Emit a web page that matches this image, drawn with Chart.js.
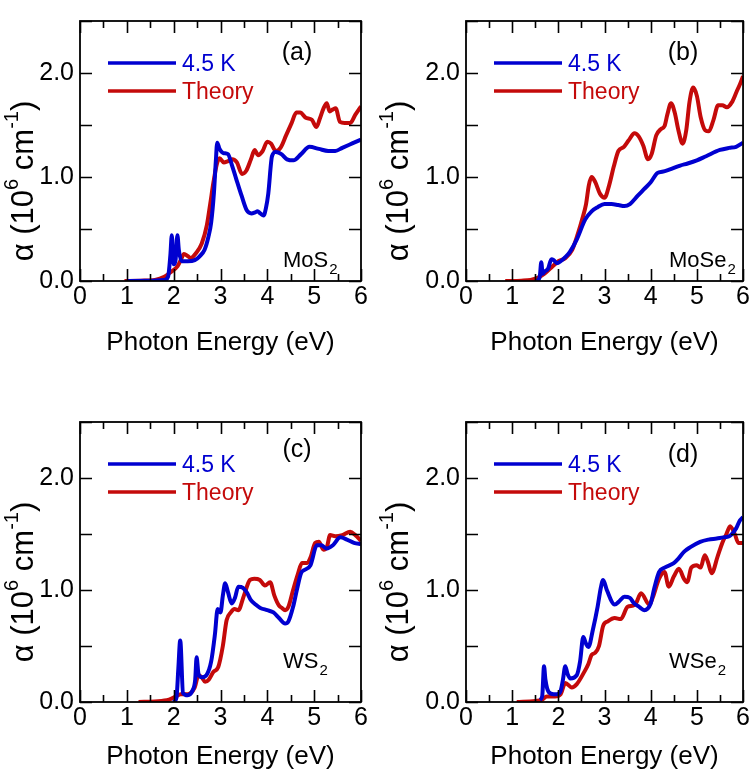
<!DOCTYPE html>
<html>
<head>
<meta charset="utf-8">
<script src="https://cdn.jsdelivr.net/npm/chart.js@4.4.0/dist/chart.umd.min.js"></script>
<style>
  body { margin: 0; background: #fff; }
  canvas { position: absolute; }
</style>
</head>
<body>
<canvas id="cA" width="375" height="386" style="left:0;top:0"></canvas>
<canvas id="cB" width="376" height="386" style="left:375px;top:0"></canvas>
<canvas id="cC" width="375" height="386" style="left:0;top:386px"></canvas>
<canvas id="cD" width="376" height="386" style="left:375px;top:386px"></canvas>
<script>
// photon energy (eV) and absorption (10^6 cm^-1)
var mos2ExpE = [1.0, 1.5, 1.8, 1.88, 1.93, 1.96, 2.0, 2.04, 2.08, 2.11, 2.17, 2.3, 2.45, 2.56, 2.66, 2.74, 2.8, 2.86, 2.9, 2.93, 2.98, 3.06, 3.16, 3.24, 3.33, 3.45, 3.56, 3.66, 3.74, 3.79, 3.85, 3.92, 3.97, 4.02, 4.1, 4.18, 4.3, 4.42, 4.56, 4.72, 4.9, 5.1, 5.3, 5.45, 5.6, 5.75, 5.9, 6.0];
var mos2ExpA = [0, 0.002, 0.01, 0.04, 0.25, 0.44, 0.16, 0.2, 0.44, 0.3, 0.19, 0.19, 0.2, 0.24, 0.3, 0.42, 0.56, 0.85, 1.15, 1.33, 1.27, 1.23, 1.22, 1.12, 0.99, 0.82, 0.68, 0.65, 0.66, 0.67, 0.65, 0.63, 0.7, 0.84, 1.2, 1.24, 1.22, 1.17, 1.16, 1.22, 1.29, 1.27, 1.25, 1.25, 1.28, 1.31, 1.34, 1.36];
var mos2ThE = [0.95, 1.3, 1.6, 1.8, 1.95, 2.08, 2.15, 2.22, 2.3, 2.36, 2.48, 2.6, 2.71, 2.78, 2.85, 2.92, 2.98, 3.07, 3.15, 3.25, 3.35, 3.46, 3.55, 3.65, 3.73, 3.8, 3.9, 4.0, 4.08, 4.18, 4.28, 4.4, 4.52, 4.62, 4.7, 4.82, 4.95, 5.05, 5.12, 5.2, 5.27, 5.33, 5.4, 5.46, 5.55, 5.65, 5.77, 5.88, 6.0];
var mos2ThA = [0, 0.003, 0.01, 0.04, 0.09, 0.14, 0.2, 0.26, 0.24, 0.22, 0.27, 0.36, 0.54, 0.74, 0.95, 1.12, 1.18, 1.14, 1.15, 1.17, 1.14, 1.03, 1.06, 1.17, 1.26, 1.21, 1.25, 1.34, 1.32, 1.25, 1.28, 1.4, 1.52, 1.62, 1.62, 1.57, 1.55, 1.48, 1.56, 1.66, 1.71, 1.63, 1.65, 1.66, 1.53, 1.52, 1.52, 1.6, 1.68];

var mose2ExpE = [1.55, 1.6, 1.63, 1.66, 1.7, 1.78, 1.85, 1.9, 1.97, 2.05, 2.15, 2.25, 2.4, 2.58, 2.72, 2.85, 3.0, 3.15, 3.3, 3.43, 3.55, 3.72, 3.85, 4.0, 4.15, 4.25, 4.4, 4.64, 4.8, 5.0, 5.2, 5.5, 5.7, 5.85, 6.0];
var mose2ExpA = [0, 0.05, 0.18, 0.07, 0.09, 0.12, 0.21, 0.2, 0.17, 0.19, 0.23, 0.28, 0.4, 0.59, 0.67, 0.71, 0.74, 0.74, 0.73, 0.72, 0.74, 0.82, 0.88, 0.95, 1.04, 1.05, 1.07, 1.11, 1.13, 1.16, 1.2, 1.26, 1.28, 1.29, 1.33];
var mose2ThE = [0.85, 1.2, 1.4, 1.55, 1.7, 1.85, 2.0, 2.15, 2.3, 2.42, 2.52, 2.6, 2.66, 2.72, 2.8, 2.9, 3.0, 3.1, 3.2, 3.3, 3.42, 3.52, 3.65, 3.74, 3.84, 3.94, 4.02, 4.12, 4.22, 4.3, 4.36, 4.44, 4.52, 4.6, 4.69, 4.77, 4.84, 4.92, 5.0, 5.08, 5.18, 5.26, 5.36, 5.46, 5.55, 5.65, 5.76, 5.86, 5.94, 6.0];
var mose2ThA = [0, 0.003, 0.01, 0.03, 0.07, 0.13, 0.19, 0.22, 0.3, 0.45, 0.6, 0.74, 0.92, 1.0, 0.95, 0.84, 0.8, 0.92, 1.1, 1.25, 1.29, 1.35, 1.42, 1.39, 1.3, 1.17, 1.22, 1.4, 1.46, 1.49, 1.6, 1.71, 1.62, 1.45, 1.32, 1.45, 1.72, 1.86, 1.78, 1.58, 1.45, 1.44, 1.55, 1.69, 1.69, 1.67, 1.72, 1.82, 1.9, 1.97];

var ws2ExpE = [2.0, 2.06, 2.1, 2.14, 2.2, 2.3, 2.4, 2.46, 2.49, 2.53, 2.6, 2.7, 2.8, 2.88, 2.94, 3.0, 3.05, 3.1, 3.16, 3.24, 3.31, 3.38, 3.48, 3.56, 3.65, 3.75, 3.85, 4.0, 4.13, 4.25, 4.38, 4.45, 4.55, 4.63, 4.72, 4.8, 4.92, 5.06, 5.15, 5.27, 5.4, 5.56, 5.7, 5.85, 6.0];
var ws2ExpA = [0, 0.04, 0.3, 0.55, 0.08, 0.06, 0.1, 0.2, 0.4, 0.25, 0.22, 0.24, 0.36, 0.6, 0.83, 0.8, 0.95, 1.06, 0.98, 0.88, 0.93, 1.03, 1.02, 0.98, 0.91, 0.87, 0.84, 0.82, 0.8, 0.75, 0.7, 0.72, 0.85, 1.0, 1.15, 1.18, 1.22, 1.4, 1.4, 1.37, 1.4, 1.47, 1.45, 1.42, 1.41];
var ws2ThE = [1.25, 1.6, 1.9, 2.05, 2.15, 2.3, 2.45, 2.53, 2.6, 2.67, 2.75, 2.85, 2.95, 3.05, 3.13, 3.22, 3.3, 3.38, 3.5, 3.63, 3.72, 3.84, 3.95, 4.06, 4.15, 4.25, 4.31, 4.38, 4.45, 4.55, 4.65, 4.74, 4.84, 4.93, 5.02, 5.1, 5.2, 5.27, 5.34, 5.45, 5.6, 5.77, 5.88, 6.0];
var ws2ThA = [0, 0.005, 0.02, 0.05, 0.07, 0.07, 0.13, 0.24, 0.22, 0.18, 0.2, 0.27, 0.31, 0.5, 0.73, 0.8, 0.83, 0.82, 0.95, 1.09, 1.1, 1.09, 1.04, 1.07, 0.95, 0.86, 0.84, 0.82, 0.85, 1.0, 1.14, 1.24, 1.24, 1.3, 1.42, 1.43, 1.36, 1.38, 1.49, 1.48, 1.49, 1.52, 1.49, 1.44];

var wse2ExpE = [1.6, 1.65, 1.69, 1.72, 1.79, 1.9, 1.97, 2.05, 2.1, 2.15, 2.2, 2.26, 2.4, 2.47, 2.54, 2.6, 2.65, 2.75, 2.85, 2.92, 2.97, 3.05, 3.22, 3.32, 3.43, 3.55, 3.64, 3.75, 3.86, 4.0, 4.08, 4.18, 4.3, 4.5, 4.6, 4.72, 4.85, 5.07, 5.25, 5.43, 5.57, 5.7, 5.85, 5.93, 6.0];
var wse2ExpA = [0.02, 0.05, 0.32, 0.2, 0.09, 0.07, 0.07, 0.1, 0.2, 0.32, 0.25, 0.21, 0.24, 0.36, 0.58, 0.52, 0.49, 0.65, 0.85, 1.02, 1.09, 1.0, 0.87, 0.9, 0.94, 0.93, 0.88, 0.85, 0.82, 0.88, 1.02, 1.16, 1.2, 1.24, 1.28, 1.34, 1.38, 1.43, 1.45, 1.46, 1.47, 1.48, 1.55, 1.62, 1.65];
var wse2ThE = [1.1, 1.5, 1.65, 1.75, 1.93, 2.05, 2.15, 2.29, 2.4, 2.55, 2.65, 2.72, 2.8, 2.88, 2.97, 3.07, 3.22, 3.35, 3.5, 3.62, 3.68, 3.79, 3.97, 4.05, 4.18, 4.3, 4.39, 4.5, 4.61, 4.72, 4.79, 4.88, 5.0, 5.08, 5.17, 5.24, 5.32, 5.45, 5.55, 5.64, 5.72, 5.82, 5.9, 6.0];
var wse2ThA = [0, 0.01, 0.02, 0.05, 0.05, 0.07, 0.17, 0.13, 0.16, 0.26, 0.34, 0.42, 0.44, 0.5, 0.68, 0.72, 0.75, 0.74, 0.85, 0.86, 0.88, 0.97, 0.87, 0.94, 1.1, 1.16, 1.03, 1.12, 1.19, 1.1, 1.07, 1.2, 1.22, 1.2, 1.31, 1.25, 1.15, 1.3, 1.42, 1.5, 1.57, 1.5, 1.42, 1.42];

var seriesNames = ['4.5 K', 'Theory'];
var seriesColors = ['#0000d0', '#c40a0a'];
var xTicks = [0, 1, 2, 3, 4, 5, 6];
var yTicks = [0, 0.5, 1, 1.5, 2, 2.5];

var FONT = '"Liberation Sans", Arial, Helvetica, sans-serif';

function pts(es, as) {
  var out = [];
  for (var i = 0; i < es.length; i++) out.push({x: es[i], y: as[i]});
  return out;
}

// frame, inward ticks, legend, panel tags, y title
var decor = {
  id: 'decor',
  afterDraw: function(chart, args, opts) {
    var ctx = chart.ctx;
    var a = chart.chartArea;
    var xs = chart.scales.x, ys = chart.scales.y;
    ctx.save();
    ctx.strokeStyle = '#000';
    ctx.lineWidth = 1.8;
    ctx.strokeRect(a.left, a.top, a.right - a.left, a.bottom - a.top);
    ctx.lineWidth = 1.6;
    ctx.beginPath();
    for (var v = 0; v <= 6.001; v += 0.5) {
      var px = Math.round(xs.getPixelForValue(v)) + 0.5;
      var len = (v % 1 === 0) ? 12 : 7;
      ctx.moveTo(px, a.bottom); ctx.lineTo(px, a.bottom - len);
      ctx.moveTo(px, a.top); ctx.lineTo(px, a.top + len);
    }
    for (var j = 0; j < yTicks.length; j++) {
      var py = Math.round(ys.getPixelForValue(yTicks[j])) + 0.5;
      ctx.moveTo(a.left, py); ctx.lineTo(a.left + 12, py);
      ctx.moveTo(a.right, py); ctx.lineTo(a.right - 12, py);
    }
    ctx.stroke();

    // legend
    chart.data.datasets.forEach(function(ds, i) {
      var ly = a.top + 42 + i * 28;
      ctx.strokeStyle = ds.borderColor;
      ctx.lineWidth = 3.5;
      ctx.beginPath();
      ctx.moveTo(a.left + 28, ly); ctx.lineTo(a.left + 96, ly);
      ctx.stroke();
      ctx.fillStyle = ds.borderColor;
      ctx.font = '23px ' + FONT;
      ctx.textAlign = 'left';
      ctx.textBaseline = 'middle';
      ctx.fillText(ds.label, a.left + 102, ly + 2);
    });

    // panel letter
    ctx.fillStyle = '#000';
    ctx.font = '25px ' + FONT;
    ctx.textAlign = 'center';
    ctx.textBaseline = 'middle';
    ctx.fillText(opts.tag, a.left + 217, a.top + opts.tagY);

    // material name with subscript
    ctx.textAlign = 'left';
    ctx.textBaseline = 'alphabetic';
    ctx.font = '22px ' + FONT;
    var mx = a.left + 203, my = a.top + 246;
    ctx.fillText(opts.name, mx, my);
    var w = ctx.measureText(opts.name).width;
    ctx.font = '15px ' + FONT;
    ctx.fillText('2', mx + w + 1, my + 7);

    // y title, rotated, with superscripts
    var parts = [['\u03b1 (10', 31, 0], ['6', 20, -12], [' cm', 31, 0], ['-1', 20, -12], [')', 31, 0]];
    var total = 0;
    parts.forEach(function(p) { ctx.font = p[1] + 'px ' + FONT; total += ctx.measureText(p[0]).width; });
    ctx.translate(22, a.top + 160);
    ctx.rotate(-Math.PI / 2);
    ctx.textBaseline = 'middle';
    var cx = -total / 2;
    parts.forEach(function(p) {
      ctx.font = p[1] + 'px ' + FONT;
      ctx.fillText(p[0], cx, p[2] + 2);
      cx += ctx.measureText(p[0]).width;
    });
    ctx.restore();
  }
};

function makePanel(id, expE, expA, thE, thA, o) {
  new Chart(document.getElementById(id), {
    type: 'line',
    data: {
      datasets: [
        {label: seriesNames[0], data: pts(expE, expA), borderColor: seriesColors[0]},
        {label: seriesNames[1], data: pts(thE, thA), borderColor: seriesColors[1]}
      ]
    },
    options: {
      responsive: false,
      animation: false,
      parsing: false,
      layout: {padding: {left: 0, right: o.right, top: o.top, bottom: 0}},
      elements: {
        point: {radius: 0},
        line: {borderWidth: 4, cubicInterpolationMode: 'monotone', fill: false}
      },
      plugins: {legend: {display: false}, tooltip: {enabled: false}, decor: {tag: o.tag, tagY: o.tagY, name: o.name}},
      scales: {
        x: {
          type: 'linear', min: 0, max: 6,
          afterFit: function(s) { s.height = o.xh; },
          afterBuildTicks: function(s) { s.ticks = xTicks.map(function(v) { return {value: v}; }); },
          grid: {display: false, drawTicks: false},
          border: {display: false},
          ticks: {color: '#000', padding: 1, maxRotation: 0, font: {size: 25, family: FONT}},
          title: {display: true, text: 'Photon Energy (eV)', color: '#000', padding: {top: 0, bottom: o.tb}, font: {size: 26, family: FONT}}
        },
        y: {
          min: 0, max: 2.5,
          afterFit: function(s) { s.width = o.yw; },
          afterBuildTicks: function(s) { s.ticks = yTicks.map(function(v) { return {value: v}; }); },
          grid: {display: false, drawTicks: false},
          border: {display: false},
          ticks: {color: '#000', padding: 6, font: {size: 25, family: FONT},
            callback: function(v) { return (v % 1 === 0) ? v.toFixed(1) : ''; }}
        }
      }
    },
    plugins: [decor]
  });
}

makePanel('cA', mos2ExpE, mos2ExpA, mos2ThE, mos2ThA, {yw: 80, right: 14, top: 1, xh: 105, tb: 28, tag: '(a)', tagY: 32, name: 'MoS'});
makePanel('cB', mose2ExpE, mose2ExpA, mose2ThE, mose2ThA, {yw: 91, right: 5, top: 1, xh: 105, tb: 28, tag: '(b)', tagY: 32, name: 'MoSe'});
makePanel('cC', ws2ExpE, ws2ExpA, ws2ThE, ws2ThA, {yw: 80, right: 14, top: 36, xh: 70, tb: 0, tag: '(c)', tagY: 28, name: 'WS'});
makePanel('cD', wse2ExpE, wse2ExpA, wse2ThE, wse2ThA, {yw: 91, right: 5, top: 36, xh: 70, tb: 0, tag: '(d)', tagY: 33, name: 'WSe'});
</script>
</body>
</html>
